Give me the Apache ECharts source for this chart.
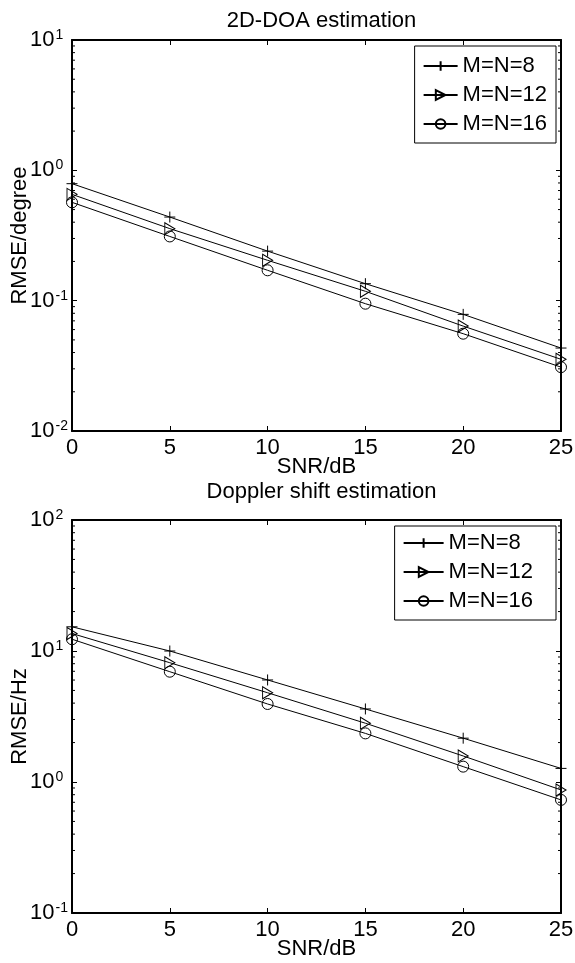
<!DOCTYPE html>
<html>
<head>
<meta charset="utf-8">
<script src="https://cdn.jsdelivr.net/npm/echarts@6/dist/echarts.min.js"></script>
<style>
  html, body { margin: 0; padding: 0; background: #fff; }
  #chart { width: 575px; height: 963px; }
</style>
</head>
<body>
<div id="chart"></div>
<script>
// SNR sweep (dB)
const snr = [0, 5, 10, 15, 20, 25];
const seriesNames = ['M=N=8', 'M=N=12', 'M=N=16'];

// 2D-DOA RMSE (degree)
const doaM8  = [0.79, 0.438, 0.240, 0.135, 0.0785, 0.0433];
const doaM12 = [0.654, 0.357, 0.204, 0.118, 0.0638, 0.0355];
const doaM16 = [0.568, 0.311, 0.171, 0.0948, 0.0558, 0.0309];

// Doppler shift RMSE (Hz)
const dopM8  = [15.3, 10.0, 6.01, 3.61, 2.16, 1.27];
const dopM12 = [13.6, 8.14, 4.80, 2.81, 1.58, 0.87];
const dopM16 = [12.3, 6.95, 3.94, 2.35, 1.31, 0.73];

const titles = ['2D-DOA estimation', 'Doppler shift estimation'];
const yNames = ['RMSE/degree', 'RMSE/Hz'];
const xName = 'SNR/dB';
const yRanges = [[0.01, 10], [0.1, 100]];
const xRange = [0, 25];
const xStep = 5;
// minor tick mantissas inside each decade of the log axes
const minorMantissas = [2, 3, 4, 5, 6, 7, 8, 9];

const FONT = '"Liberation Sans", Arial, Helvetica, sans-serif';
const BLACK = '#000';

const grids = [
  { left: 72, top: 40, width: 489, height: 391, outerBoundsMode: 'none', containLabel: false },
  { left: 72, top: 520, width: 489, height: 393, outerBoundsMode: 'none', containLabel: false }
];

const markers = [
  'path://M0,5L10,5M5,0L5,10',
  'path://M0,0L10,5L0,10Z',
  'circle'
];

function xAxisPair(gi) {
  const base = {
    type: 'value', gridIndex: gi, min: xRange[0], max: xRange[1], interval: xStep,
    axisLine: { show: true, onZero: false, lineStyle: { color: BLACK, width: 2 } },
    axisTick: { show: true, inside: true, length: 5, lineStyle: { color: BLACK, width: 1 } },
    splitLine: { show: false }
  };
  return [
    Object.assign({}, base, {
      position: 'bottom',
      name: xName, nameLocation: 'middle', nameGap: 25, nameMoveOverlap: false,
      nameTextStyle: { fontFamily: FONT, fontSize: 22, color: BLACK },
      axisLabel: { show: true, margin: 6, fontFamily: FONT, fontSize: 22, color: BLACK,
        showMinLabel: true, showMaxLabel: true }
    }),
    Object.assign({}, base, { position: 'top', axisLabel: { show: false } })
  ];
}

function yAxisPair(gi) {
  const base = {
    type: 'log', logBase: 10, gridIndex: gi, min: yRanges[gi][0], max: yRanges[gi][1],
    axisLine: { show: true, onZero: false, lineStyle: { color: BLACK, width: 2 } },
    axisTick: { show: true, inside: true, length: 5, lineStyle: { color: BLACK, width: 1 } },
    splitLine: { show: false }
  };
  return [
    Object.assign({}, base, {
      position: 'left',
      name: yNames[gi], nameLocation: 'middle', nameGap: 41, nameRotate: 90, nameMoveOverlap: false,
      nameTextStyle: { fontFamily: FONT, fontSize: 22, color: BLACK },
      axisLabel: {
        show: true, margin: 42, align: 'left',
        formatter: v => '{b|10}{s|' + Math.round(Math.log10(v)) + '}',
        rich: {
          b: { fontFamily: FONT, fontSize: 22, color: BLACK },
          s: { fontFamily: FONT, fontSize: 14, color: BLACK, verticalAlign: 'top', padding: [0, 0, 10, 1] }
        }
      }
    }),
    Object.assign({}, base, { position: 'right', axisLabel: { show: false } })
  ];
}

function makeSeries(gi, lists) {
  return lists.map((vals, k) => ({
    name: seriesNames[k],
    type: 'line',
    xAxisIndex: gi * 2,
    yAxisIndex: gi * 2,
    data: snr.map((x, i) => [x, vals[i]]),
    symbol: markers[k],
    symbolSize: k === 1 ? [10, 12] : 11,
    showAllSymbol: true,
    lineStyle: { color: BLACK, width: 1 },
    itemStyle: { color: 'rgba(0,0,0,0)', borderColor: BLACK, borderWidth: 1 },
    emphasis: { disabled: true },
    z: 3
  }));
}

// minor ticks of a log axis, placed through the axis scale on both vertical frame sides
function minorTickSeries(gi) {
  const lo = Math.round(Math.log10(yRanges[gi][0]));
  const hi = Math.round(Math.log10(yRanges[gi][1]));
  const values = [];
  for (let e = lo; e < hi; e++) {
    minorMantissas.forEach(m => values.push(m * Math.pow(10, e)));
  }
  return {
    type: 'custom',
    xAxisIndex: gi * 2,
    yAxisIndex: gi * 2,
    silent: true,
    z: 4,
    data: values.map(v => [xRange[0], v]),
    renderItem: (params, api) => {
      const v = api.value(1);
      const pl = api.coord([xRange[0], v]);
      const pr = api.coord([xRange[1], v]);
      const style = { stroke: BLACK, lineWidth: 1 };
      return {
        type: 'group',
        children: [
          { type: 'line', shape: { x1: pl[0], y1: pl[1], x2: pl[0] + 3, y2: pl[1] }, style },
          { type: 'line', shape: { x1: pr[0], y1: pr[1], x2: pr[0] - 3, y2: pr[1] }, style }
        ]
      };
    }
  };
}

function legendFor(top, itemWidth, padding) {
  return {
    orient: 'vertical', right: 19, top: top,
    data: seriesNames,
    backgroundColor: '#fff', borderColor: BLACK, borderWidth: 1, borderRadius: 0,
    padding: padding, itemGap: 7, itemWidth: itemWidth, itemHeight: 12,
    textStyle: { fontFamily: FONT, fontSize: 22, color: BLACK },
    selectedMode: false
  };
}

const chart = echarts.init(document.getElementById('chart'), null, { renderer: 'canvas' });
chart.setOption({
  animation: false,
  backgroundColor: '#fff',
  title: [
    { text: titles[0], left: 316.5, top: 5, textAlign: 'center',
      textStyle: { fontFamily: FONT, fontSize: 22, fontWeight: 'normal', color: BLACK } },
    { text: titles[1], left: 316.5, top: 476, textAlign: 'center',
      textStyle: { fontFamily: FONT, fontSize: 22, fontWeight: 'normal', color: BLACK } }
  ],
  legend: [
    legendFor(46, 34, [9, 9, 8, 8]),
    legendFor(526, 40, [6, 23, 8, 8])
  ],
  grid: grids,
  xAxis: [].concat(xAxisPair(0), xAxisPair(1)),
  yAxis: [].concat(yAxisPair(0), yAxisPair(1)),
  series: [].concat(
    makeSeries(0, [doaM8, doaM12, doaM16]),
    makeSeries(1, [dopM8, dopM12, dopM16]),
    [minorTickSeries(0), minorTickSeries(1)]
  )
});
</script>
</body>
</html>
